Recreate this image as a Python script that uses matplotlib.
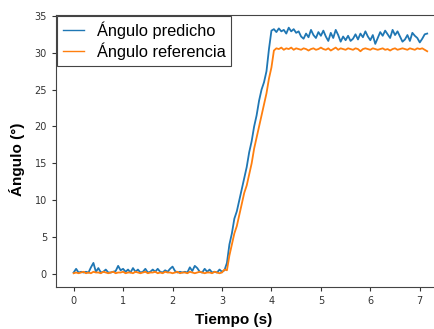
import numpy as np
import matplotlib
matplotlib.use("Agg")
import matplotlib.pyplot as plt

# angulo predicho (muestras cada 0.05 s)
pred_base = [0.2, 0.7, 0.2, 0.3, 0.2, 0.3, 0.2, 0.9, 1.5, 0.3,
             0.8, 0.2, 0.3, 0.6, 0.2, 0.2, 0.3, 0.4, 1.1, 0.5,
             0.7, 0.3, 0.6, 0.2, 0.8, 0.3, 0.6, 0.2, 0.3, 0.7,
             0.2, 0.3, 0.6, 0.3, 0.7, 0.3, 0.2, 0.5, 0.3, 0.7,
             1.0, 0.4, 0.2, 0.3, 0.2, 0.3, 0.2, 0.9, 0.4, 1.1,
             0.8, 0.3, 0.2, 0.7, 0.3, 0.6, 0.2, 0.3, 0.2, 0.6,
             0.3, 0.5]
pred_rise = [1.5, 4.0, 5.5, 7.5, 8.5, 10.0, 11.5, 13.0, 14.5, 16.5,
             18.0, 20.0, 21.5, 23.5, 25.0, 26.0, 27.5, 30.5, 33.0]
pred_top = [33.2, 32.8, 33.3, 32.9, 33.1, 32.6, 33.4, 32.9, 33.2, 32.7,
            32.9, 32.2, 31.9, 32.6, 32.1, 33.1, 32.4, 32.0, 32.8, 32.3,
            33.0, 32.2, 31.6, 32.7, 32.0, 33.1, 32.4, 31.5, 32.2, 31.7,
            32.3, 31.6, 31.9, 32.5, 31.8, 32.6, 32.1, 32.9, 32.2, 31.7,
            32.4, 31.2, 32.0, 32.8, 32.3, 33.0, 32.5, 32.0, 33.1, 32.4,
            32.9, 32.2, 31.5, 31.8, 32.4, 31.6, 32.7, 32.3, 32.0, 31.4,
            31.9, 32.5, 32.6]

# angulo referencia
ref_base = [0.1, 0.2, 0.1, 0.2, 0.3, 0.1, 0.2, 0.1, 0.3, 0.2,
            0.2, 0.1, 0.3, 0.2, 0.1, 0.2, 0.3, 0.1, 0.2, 0.2,
            0.3, 0.1, 0.2, 0.2, 0.1, 0.3, 0.2, 0.1, 0.2, 0.3,
            0.1, 0.2, 0.2, 0.3, 0.1, 0.2, 0.1, 0.3, 0.2, 0.2,
            0.1, 0.2, 0.3, 0.1, 0.2, 0.2, 0.1, 0.3, 0.2, 0.1,
            0.2, 0.3, 0.2, 0.1, 0.2, 0.2, 0.1, 0.3, 0.2, 0.1,
            0.2, 0.6]
ref_rise = [0.5, 2.5, 4.0, 5.5, 6.5, 8.0, 9.5, 11.0, 12.0, 13.5,
            15.0, 17.0, 18.5, 20.0, 21.5, 23.0, 24.5, 26.5, 28.0, 30.3,
            30.6]
ref_top = [30.5, 30.7, 30.4, 30.6, 30.5, 30.7, 30.4, 30.6, 30.5, 30.4,
           30.6, 30.5, 30.3, 30.5, 30.6, 30.4, 30.5, 30.7, 30.5, 30.4,
           30.6, 30.3, 30.5, 30.7, 30.4, 30.6, 30.5, 30.4, 30.6, 30.5,
           30.4, 30.6, 30.5, 30.2, 30.5, 30.6, 30.5, 30.4, 30.6, 30.5,
           30.4, 30.5, 30.6, 30.4, 30.5, 30.3, 30.5, 30.6, 30.4, 30.5,
           30.6, 30.5, 30.4, 30.6, 30.5, 30.4, 30.6, 30.5, 30.6, 30.4,
           30.2]

pred = np.array(pred_base + pred_rise + pred_top)
ref = np.array(ref_base + ref_rise + ref_top)
t = np.linspace(0, 7.15, len(pred))

fig = plt.figure(figsize=(4.34, 3.29), dpi=100)
ax = fig.add_axes([0.129, 0.128, 0.896, 0.826])

ax.plot(t, pred, color='#1f77b4', lw=1.3, label='Ángulo predicho')
ax.plot(t, ref, color='#ff7f0e', lw=1.3, label='Ángulo referencia')

ax.set_xlim(-0.357, 7.507)
ax.set_ylim(-1.75, 35.1)
ax.set_xticks(range(0, 8))
ax.set_yticks(range(0, 36, 5))
ax.tick_params(labelsize=7, length=3, colors='#333333')
for s in ax.spines.values():
    s.set_color('#444444')

ax.set_xlabel('Tiempo (s)', fontsize=11, fontweight='bold', family='Liberation Sans')
ax.set_ylabel('Ángulo (°)', fontsize=11, fontweight='bold', family='Liberation Sans')
ax.xaxis.set_label_coords(0.458, -0.095)
ax.yaxis.set_label_coords(-0.08, 0.47)

leg = ax.legend(loc='upper left', fancybox=False, framealpha=1, edgecolor='#444444',
                prop={'family': 'Liberation Sans', 'size': 11.8},
                borderaxespad=0.05, borderpad=0.35, labelspacing=0.2,
                handlelength=1.3, handletextpad=0.8)
leg.get_frame().set_linewidth(0.8)
for h in leg.get_lines():
    h.set_linewidth(1.0)

fig.savefig('out.png', dpi=100)
